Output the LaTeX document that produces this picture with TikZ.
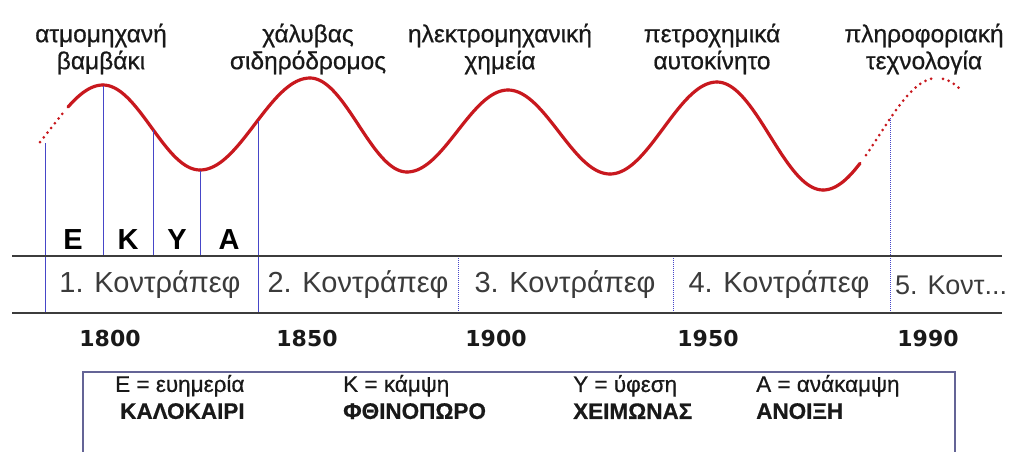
\documentclass[tikz,border=0pt]{standalone}
\usepackage{fontspec}
\setmainfont{Liberation Sans}
\newfontfamily\dejab{DejaVu Sans}
\newfontfamily\heavy[FakeBold=0.6]{Liberation Sans}
\definecolor{wavered}{RGB}{200,24,30}
\definecolor{vblue}{RGB}{70,70,200}
\definecolor{rule}{RGB}{60,60,60}
\definecolor{boxline}{RGB}{100,100,150}
\definecolor{txt}{RGB}{25,25,25}
\newcommand{\hwave}[7]{\draw[#7] plot[domain=#5:#6,samples=40] (\x,{(#3+#4)/2+(#3-#4)/2*cos(180/(#2-#1)*(\x-#1))});}
\begin{document}
\begin{tikzpicture}[x=1pt,y=-1pt,
  wave/.style={draw=wavered,line width=3.2pt,line join=round,line cap=round},
  wavedot/.style={draw=wavered,line width=3pt,line cap=round,dash pattern=on 0pt off 6pt},
  vline/.style={draw=vblue,line width=0.8pt},
  vdot/.style={draw=vblue,line width=0.8pt,dash pattern=on 1pt off 1pt},
  hrule/.style={draw=rule,line width=1.8pt},
  toplabel/.style={align=center,text=txt,font=\heavy\fontsize{24.5}{27}\selectfont,inner sep=0pt},
  period/.style={text=txt!85,font=\fontsize{29}{30}\selectfont,inner sep=0pt},
  year/.style={text=txt,font=\dejab\bfseries\fontsize{22}{24}\selectfont,inner sep=0pt},
  phase/.style={text=black,font=\bfseries\fontsize{29}{30}\selectfont,inner sep=0pt},
  legend/.style={anchor=west,align=left,text=txt,font=\heavy\fontsize{22.5}{27}\selectfont,inner sep=0pt}]
\useasboundingbox (0,0) rectangle (1016,451);
% wave
\hwave{0}{103}{170}{85}{40}{66}{wavedot}
\hwave{0}{103}{170}{85}{68}{103}{wave}
\hwave{103}{200}{85}{170}{103}{200}{wave}
\hwave{200}{310}{170}{78}{200}{310}{wave}
\hwave{310}{407}{78}{172}{310}{407}{wave}
\hwave{407}{508}{172}{90}{407}{508}{wave}
\hwave{508}{610}{90}{174}{508}{610}{wave}
\hwave{610}{717}{174}{82}{610}{717}{wave}
\hwave{717}{823}{82}{190}{717}{823}{wave}
\hwave{823}{937}{190}{78}{823}{860}{wave}
\hwave{823}{937}{190}{78}{866}{937}{wavedot}
\hwave{937}{1040}{78}{170}{943}{960}{wavedot}
% phase boundaries
\coordinate (p0t) at (45,143);  \coordinate (p0b) at (45,313);
\coordinate (p1t) at (103,86);  \coordinate (p1b) at (103,256);
\coordinate (p2t) at (153,130); \coordinate (p2b) at (153,256);
\coordinate (p3t) at (200,171); \coordinate (p3b) at (200,256);
\coordinate (p4t) at (258,121); \coordinate (p4b) at (258,313);
\coordinate (d1t) at (458,256); \coordinate (d1b) at (458,313);
\coordinate (d2t) at (673,256); \coordinate (d2b) at (673,313);
\coordinate (d3t) at (890,118); \coordinate (d3b) at (890,313);
\draw[vline] (p0t) -- (p0b);
\draw[vline] (p1t) -- (p1b);
\draw[vline] (p2t) -- (p2b);
\draw[vline] (p3t) -- (p3b);
\draw[vline] (p4t) -- (p4b);
\draw[vdot] (d1t) -- (d1b);
\draw[vdot] (d2t) -- (d2b);
\draw[vdot] (d3t) -- (d3b);
% table rules
\coordinate (r1l) at (12,256); \coordinate (r1r) at (1002,256);
\coordinate (r2l) at (12,313); \coordinate (r2r) at (1002,313);
\draw[hrule] (r1l) -- (r1r);
\draw[hrule] (r2l) -- (r2r);
% top labels
\node[toplabel] (l1) at (101,49) {ατμομηχανή\\βαμβάκι};
\node[toplabel] (l2) at (308,49) {χάλυβας\\σιδηρόδρομος};
\node[toplabel] (l3) at (500,49) {ηλεκτρομηχανική\\χημεία};
\node[toplabel] (l4) at (712,49) {πετροχημικά\\αυτοκίνητο};
\node[toplabel] (l5) at (924,49) {πληροφοριακή\\τεχνολογία};
% phases
\node[phase] (e) at (73,240) {Ε};
\node[phase] (k) at (128,240) {Κ};
\node[phase] (y) at (177,240) {Υ};
\node[phase] (a) at (229,240) {Α};
% periods
\node[period] (k1) at (150,285) {1. Κοντράπεφ};
\node[period] (k2) at (358,285) {2. Κοντράπεφ};
\node[period] (k3) at (565,285) {3. Κοντράπεφ};
\node[period] (k4) at (779,285) {4. Κοντράπεφ};
\node[period,anchor=west,font=\fontsize{27}{30}\selectfont] (k5) at (895,285) {5. Κοντ...};
% years
\node[year] (y1) at (110,338) {1800};
\node[year] (y2) at (307,338) {1850};
\node[year] (y3) at (496,338) {1900};
\node[year] (y4) at (708,338) {1950};
\node[year] (y5) at (928,338) {1990};
% legend
\draw[draw=boxline,line width=1.2pt] (83,372) rectangle (955,470);
\node[legend] (g1) at (115,397) {Ε = ευημερία\\\hspace*{5pt}\textbf{ΚΑΛΟΚΑΙΡΙ}};
\node[legend] (g2) at (343,397) {Κ = κάμψη\\\textbf{ΦΘΙΝΟΠΩΡΟ}};
\node[legend] (g3) at (573,397) {Υ = ύφεση\\\textbf{ΧΕΙΜΩΝΑΣ}};
\node[legend] (g4) at (756,397) {Α = ανάκαμψη\\\textbf{ΑΝΟΙΞΗ}};
\end{tikzpicture}
\end{document}
